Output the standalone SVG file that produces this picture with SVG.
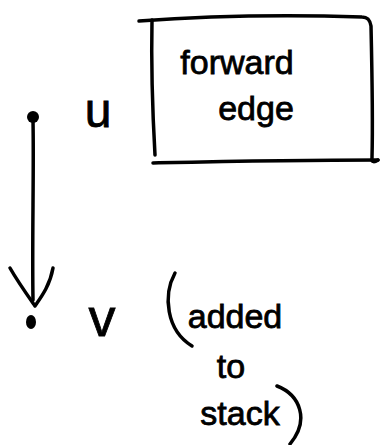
<svg xmlns="http://www.w3.org/2000/svg" width="381" height="445" viewBox="0 0 381 445">
  <style>
    .ink { fill: none; stroke: #000; stroke-width: 3.5; stroke-linecap: round; stroke-linejoin: round; }
    .dot { fill: #000; }
    .hand { font-family: "Liberation Sans", "DejaVu Sans", sans-serif; fill: #000; stroke: #000; stroke-width: 0.8; }
  </style>
  <rect width="381" height="445" fill="#fff"/>

  <!-- box with the "forward edge" note -->
  <g id="note-forward-edge">
    <path class="ink" d="M139,21 C180,18 260,14 362,17 C368,17 370,20 371,26 C372,70 373,120 372,158 C371,163 375,162 378,160"/>
    <path class="ink" d="M152,20 C151,70 153,120 155,155"/>
    <path class="ink" d="M153,163 C200,162 290,160 378,160"/>
    <text class="hand" x="237" y="74" font-size="34" text-anchor="middle">forward</text>
    <text class="hand" x="256" y="120" font-size="34" text-anchor="middle">edge</text>
  </g>

  <!-- vertex u -->
  <g id="node-u">
    <circle class="dot" cx="33" cy="117" r="6"/>
    <text class="hand" x="98" y="127" font-size="48" text-anchor="middle">u</text>
  </g>

  <!-- vertex v -->
  <g id="node-v">
    <ellipse class="dot" cx="31" cy="322" rx="5" ry="7"/>
    <text class="hand" x="102" y="336" font-size="54" text-anchor="middle">v</text>
  </g>

  <!-- note beside v -->
  <g id="note-added-to-stack">
    <path class="ink" d="M175,273 C163,295 166,330 192,346"/>
    <text class="hand" x="235" y="328" font-size="34" text-anchor="middle">added</text>
    <text class="hand" x="231" y="378" font-size="34" text-anchor="middle">to</text>
    <text class="hand" x="240" y="425" font-size="34" text-anchor="middle">stack</text>
    <path class="ink" d="M277,386 C300,395 310,420 290,444"/>
  </g>

  <!-- connector u to v -->
  <g id="connectors">
    <path class="ink" d="M33,120 C34,170 32,240 33,300"/>
    <path class="ink" d="M10,268 C18,282 28,296 35,306 C42,296 50,285 53,268"/>
  </g>
</svg>
